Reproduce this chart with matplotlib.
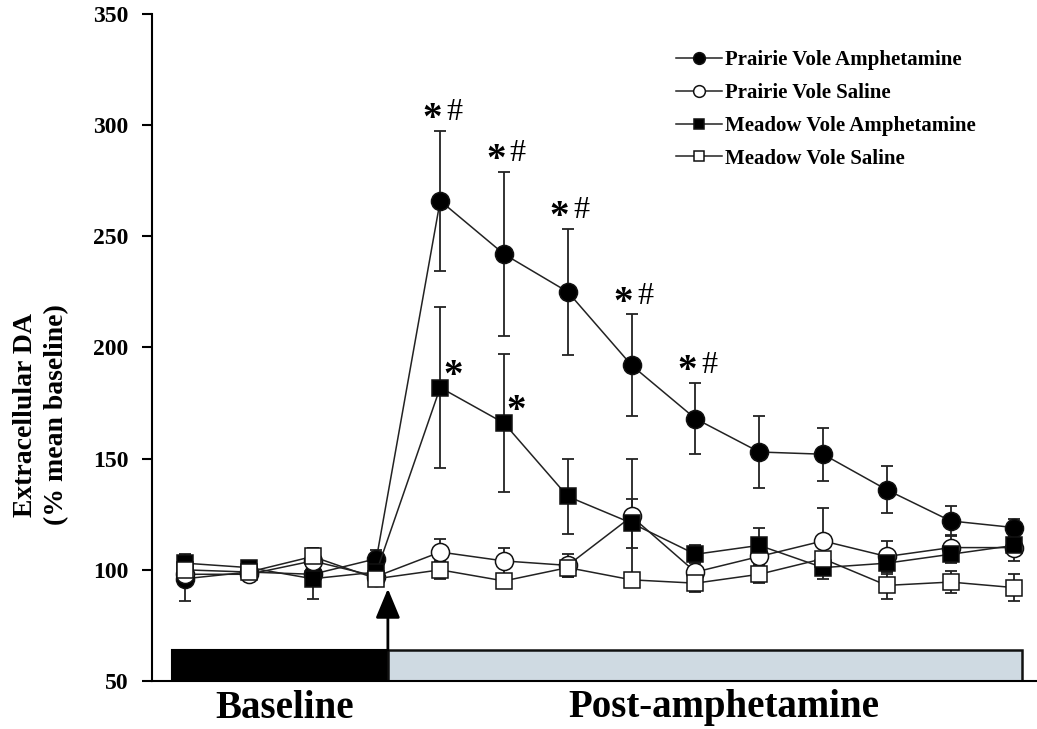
import matplotlib.pyplot as plt
import numpy as np

plt.rcParams['font.family'] = ['Liberation Serif', 'DejaVu Serif']
plt.rcParams['font.weight'] = 'bold'

# sample number (1-4 baseline, 5-14 post-amphetamine)
x = np.arange(1, 15)

prairie_amph = [96, 99, 98, 105, 266, 242, 225, 192, 168, 153, 152, 136, 122, 119]
prairie_amph_err = [10, 3, 4, 4, 31.5, 37, 28.5, 23, 16, 16, 12, 10.5, 6.5, 4]
prairie_sal = [98, 98, 104, 97, 108, 104, 102, 124, 99, 106, 113, 106, 110, 110]
prairie_sal_err = [4, 3, 5, 3, 6, 6, 5, 26, 5, 7, 15, 7, 5, 6]
meadow_amph = [103, 101, 96, 99, 182, 166, 133, 121, 107, 111, 101, 103, 107, 111]
meadow_amph_err = [4, 3, 9, 4, 36, 31, 17, 11, 4, 8, 5, 5, 4, 4]
meadow_sal = [100, 99, 106, 96, 100, 95, 101, 95.5, 94, 98, 105, 93, 94.5, 92]
meadow_sal_err = [4, 3, 4, 3, 4, 3, 4, 3, 4, 4, 5, 6, 5, 6]

star_hash_pts = [5, 6, 7, 8, 9]   # prairie amph vs baseline and vs meadow
star_pts = [5, 6]                 # meadow amph vs baseline

labels = ['Prairie Vole Amphetamine', 'Prairie Vole Saline',
          'Meadow Vole Amphetamine', 'Meadow Vole Saline']

fig = plt.figure(figsize=(10.37, 7.29), dpi=100)
ax = fig.add_axes([152 / 1037, 48 / 729, 1 - 152 / 1037, 667 / 729])

series = [
    (prairie_amph, prairie_amph_err, 'o', 'black', 13),
    (prairie_sal, prairie_sal_err, 'o', 'white', 13),
    (meadow_amph, meadow_amph_err, 's', 'black', 11.5),
    (meadow_sal, meadow_sal_err, 's', 'white', 11),
]
handles = []
for (y, err, m, fc, ms), lab in zip(series, labels):
    ax.errorbar(x, y, yerr=err, fmt='none', ecolor='#222222', elinewidth=1.3,
                capsize=4, capthick=1.3, zorder=2)
    h, = ax.plot(x, y, color='#222222', lw=1.1, marker=m, markersize=ms,
                 markerfacecolor=fc, markeredgecolor='#111111', markeredgewidth=1.1,
                 label=lab, zorder=3)
    handles.append(h)

# significance marks
for p in star_hash_pts:
    top = prairie_amph[p - 1] + prairie_amph_err[p - 1]
    ax.annotate('*', xy=(p, top), xytext=(-6, 8), textcoords='offset points',
                ha='center', va='center', fontsize=28, fontweight='bold')
    ax.annotate('#', xy=(p, top), xytext=(10, 13), textcoords='offset points',
                ha='center', va='center', fontsize=23, fontweight='normal')
for p in star_pts:
    ax.annotate('*', xy=(p, meadow_amph[p - 1]), xytext=(9, 8), textcoords='offset points',
                ha='center', va='center', fontsize=28, fontweight='bold')

# baseline / post-amphetamine bars and injection arrow
ax.add_patch(plt.Rectangle((0.796, 50), 4.18 - 0.796, 13.9, facecolor='black',
                           edgecolor='black', lw=1.5, zorder=1))
ax.add_patch(plt.Rectangle((4.18, 50), 14.12 - 4.18, 13.9, facecolor='#cfdae2',
                           edgecolor='#111111', lw=1.8, zorder=1))
ax.annotate('', xy=(4.18, 91.5), xytext=(4.18, 63.9),
            arrowprops=dict(arrowstyle='-|>,head_length=1.8,head_width=0.75',
                            color='black', lw=2, shrinkA=0, shrinkB=0))

ax.set_xlim(0.483, 14.354)
ax.set_ylim(50, 350)
ax.set_yticks([50, 100, 150, 200, 250, 300, 350])
ax.set_xticks([])
ax.tick_params(axis='y', direction='out', length=7, width=1.5, pad=10, labelsize=17)
for s in ['top', 'right']:
    ax.spines[s].set_visible(False)
ax.spines['left'].set_linewidth(1.5)
ax.spines['bottom'].set_linewidth(1.5)

fig.text(41 / 1037, 1 - 415 / 729, 'Extracellular DA\n(% mean baseline)', rotation=90,
         ha='center', va='center', fontsize=20, linespacing=1.3)
fig.text(285 / 1037, 1 - 708 / 729, 'Baseline', ha='center', va='center', fontsize=28)
fig.text(724 / 1037, 1 - 708 / 729, 'Post-amphetamine', ha='center', va='center', fontsize=28)

leg = ax.legend(handles=handles, loc='upper left', bbox_to_anchor=(676 / 1037, 1 - 50 / 729),
                bbox_transform=fig.transFigure, frameon=False, fontsize=15,
                handlelength=2.2, handletextpad=0.15, labelspacing=0.62,
                borderpad=0, borderaxespad=0, markerscale=0.65)

fig.savefig('out.png', dpi=100)
